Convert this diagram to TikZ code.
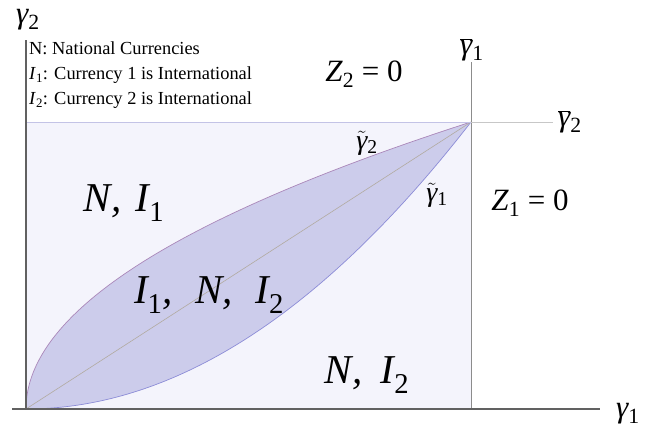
\documentclass[tikz,border=0pt]{standalone}
\usepackage{fontspec}
\setmainfont{Liberation Serif}
\newcommand{\gm}{{\itshape γ}}
\begin{document}
\begin{tikzpicture}[x=1pt,y=1pt,
  axisline/.style={draw=black!62, line width=1.2pt},
  bgfill/.style={fill={rgb,255:red,244;green,244;blue,252}},
  leaffill/.style={fill={rgb,255:red,204;green,204;blue,235}},
  upcurve/.style={draw={rgb,255:red,170;green,135;blue,185}, line width=0.7pt},
  lowcurve/.style={draw={rgb,255:red,140;green,140;blue,215}, line width=0.7pt},
  diagline/.style={draw={rgb,255:red,178;green,170;blue,160}, line width=0.6pt},
  recttop/.style={draw={rgb,255:red,195;green,195;blue,230}, line width=0.8pt},
  boundline/.style={draw=black!45, line width=0.7pt},
  lightline/.style={draw=black!22, line width=0.8pt},
  legend/.style={anchor=base west, inner sep=0pt, font=\fontsize{18.4}{21}\selectfont},
  biglab/.style={inner sep=0pt, font=\fontsize{41}{44}\selectfont\itshape},
  midlab/.style={inner sep=0pt, font=\fontsize{31}{34}\selectfont},
  glab/.style={inner sep=0pt, font=\fontsize{31}{33}\selectfont},
  tlab/.style={inner sep=0pt, font=\fontsize{28}{30}\selectfont}]
\useasboundingbox (0,0) rectangle (664,430);
\coordinate (O) at (26,21);
\coordinate (C) at (471,308);
\coordinate (Ytop) at (26,390);
\coordinate (Xl) at (12,21);
\coordinate (Xr) at (600,21);
\coordinate (Vtop) at (471,368);
\coordinate (Hright) at (553,308);
\coordinate (RTL) at (26,308);
\coordinate (RBR) at (471,21);
% regions
\path[bgfill] (O) rectangle (C);
\path[leaffill] plot[domain=0:1,samples=80,variable=\s] ({26+445*\s*\s},{21+287*\s})
  -- plot[domain=1:0,samples=80,variable=\s] ({26+445*\s},{21+287*\s*\s}) -- cycle;
\draw[upcurve] plot[domain=0:1,samples=80,variable=\s] ({26+445*\s*\s},{21+287*\s});
\draw[lowcurve] plot[domain=0:1,samples=80,variable=\s] ({26+445*\s},{21+287*\s*\s});
\draw[diagline] (O) -- (C);
\draw[recttop] (RTL) -- (C);
\draw[boundline] (RBR) -- (Vtop);
\draw[lightline] (C) -- (Hright);
\draw[axisline] (Xl) -- (Xr);
\draw[axisline] (O) -- (Ytop);
% labels
\node[glab] (g2) at (28,410) {\gm\textsubscript{2}};
\node[glab] (g1) at (628,16) {\gm\textsubscript{1}};
\node[glab] (gb1) at (472,380) {$\overline{\hbox{\gm}}$\textsubscript{1}};
\node[glab] (gb2) at (570,308) {$\overline{\hbox{\gm}}$\textsubscript{2}};
\node[tlab] (gt1) at (437,235) {$\tilde{\hbox{\gm}}$\textsubscript{1}};
\node[tlab] (gt2) at (367,287) {$\tilde{\hbox{\gm}}$\textsubscript{2}};
\node[legend] (l1) at (29,375) {N: National Currencies};
\node[legend] (l2) at (29,350) {\textit{I}\textsubscript{1}: Currency 1 is International};
\node[legend] (l3) at (29,325) {\textit{I}\textsubscript{2}: Currency 2 is International};
\node[midlab] (z2) at (364,356) {\textit{Z}\textsubscript{2} = 0};
\node[midlab] (z1) at (530,227) {\textit{Z}\textsubscript{1} = 0};
\node[biglab] (r1) at (124,227) {N,\hspace{0.1em} I\textsubscript{\upshape 1}};
\node[biglab] (r2) at (209,135) {I\textsubscript{\upshape 1},\hspace{0.3em} N,\hspace{0.3em} I\textsubscript{\upshape 2}};
\node[biglab] (r3) at (367,55) {N,\hspace{0.2em} I\textsubscript{\upshape 2}};
\end{tikzpicture}
\end{document}
